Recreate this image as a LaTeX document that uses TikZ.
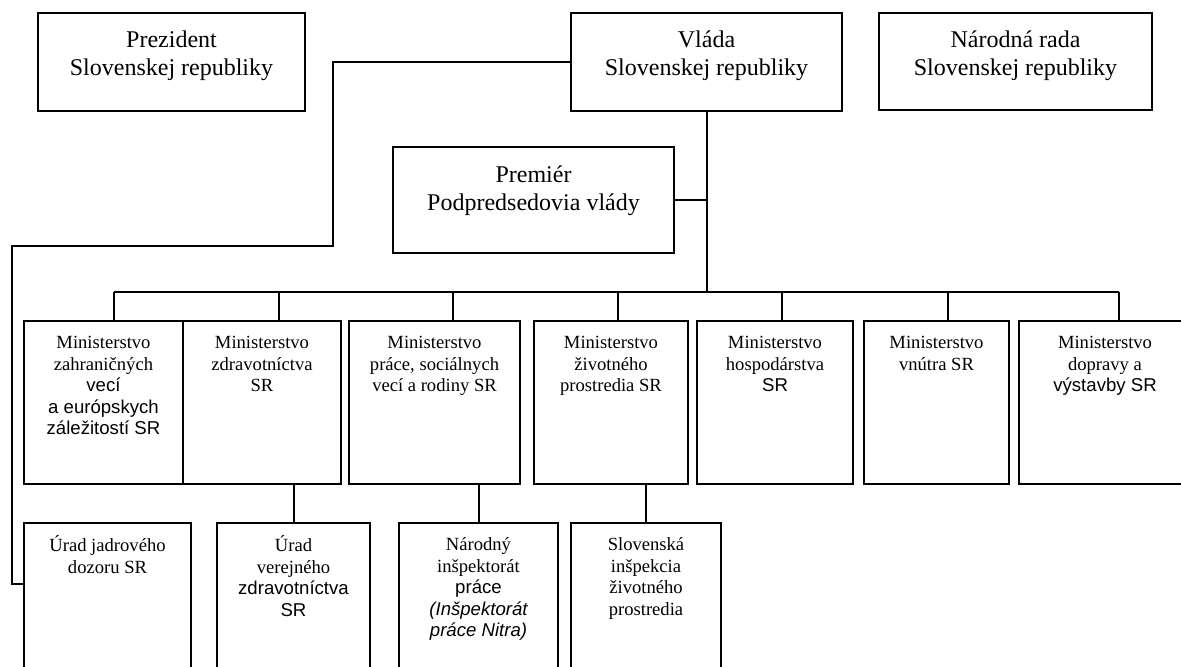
\documentclass[tikz,border=0pt]{standalone}
\usepackage{fontspec}
\setmainfont{Liberation Serif}
\setsansfont{Liberation Sans}
\usetikzlibrary{fit}
\newcommand\sa[1]{{\sffamily #1}}
\newcommand\si[1]{{\sffamily\itshape #1}}
\begin{document}
\begin{tikzpicture}[x=0.5pt,y=-0.5pt,line width=1pt,
  box/.style={draw, inner sep=0pt, line width=1pt},
  big/.style={anchor=north, inner sep=0pt, align=center, font=\fontsize{12}{14}\selectfont, yshift=-7.45pt},
  small/.style={anchor=north, inner sep=0pt, align=center, font=\fontsize{9.3}{10.75}\selectfont, yshift=-6.45pt},
  conn/.style={draw, line width=1pt}]
\useasboundingbox (0,0) rectangle (1181,666);
\clip (0,0) rectangle (1181,666);
% top boxes
\node[box, fit={(38,13) (305,111)}] (prez) {};
\node[box, fit={(571,13) (842,111)}] (vlada) {};
\node[box, fit={(879,13) (1152,110)}] (nrada) {};
\node[box, fit={(393,147) (674,253)}] (prem) {};
\node[big] (prez-t) at (prez.north) {\strut Prezident\\Slovenskej republiky};
\node[big] (vlada-t) at (vlada.north) {\strut Vláda\\Slovenskej republiky};
\node[big] (nrada-t) at (nrada.north) {\strut Národná rada\\Slovenskej republiky};
\node[big, yshift=-0.5pt] (prem-t) at (prem.north) {\strut Premiér\\Podpredsedovia vlády};
% ministries
\node[box, fit={(24,321) (183,484)}] (m1) {};
\node[box, fit={(183,321) (341,484)}] (m2) {};
\node[box, fit={(349,321) (520,484)}] (m3) {};
\node[box, fit={(534,321) (688,484)}] (m4) {};
\node[box, fit={(697,321) (853,484)}] (m5) {};
\node[box, fit={(864,321) (1009,484)}] (m6) {};
\node[box, fit={(1019,321) (1191,484)}] (m7) {};
\node[small] (m1-t) at (m1.north) {\strut Ministerstvo\\zahraničných\\\sa{vecí}\\\sa{a európskych}\\\sa{záležitostí SR}};
\node[small] (m2-t) at (m2.north) {\strut Ministerstvo\\zdravotníctva\\SR};
\node[small] (m3-t) at (m3.north) {\strut Ministerstvo\\práce, sociálnych\\vecí a rodiny SR};
\node[small] (m4-t) at (m4.north) {\strut Ministerstvo\\životného\\prostredia SR};
\node[small] (m5-t) at (m5.north) {\strut Ministerstvo\\hospodárstva\\\sa{SR}};
\node[small] (m6-t) at (m6.north) {\strut Ministerstvo\\vnútra SR};
\node[small] (m7-t) at (m7.north) {\strut Ministerstvo\\dopravy a\\\sa{výstavby SR}};
% bottom boxes
\node[box, fit={(24,523) (191,690)}] (jadr) {};
\node[box, fit={(217,523) (370,690)}] (ub) {};
\node[box, fit={(399,523) (558,690)}] (nip) {};
\node[box, fit={(571,523) (721,690)}] (sizp) {};
\node[small] (jadr-t) at (jadr.north) {\strut Úrad jadrového\\dozoru SR};
\node[small] (ub-t) at (ub.north) {\strut Úrad\\verejného\\\sa{zdravotníctva}\\\sa{SR}};
\node[small] (nip-t) at (nip.north) {\strut Národný\\inšpektorát\\\sa{práce}\\\si{(Inšpektorát}\\\si{práce Nitra)}};
\node[small] (sizp-t) at (sizp.north) {\strut Slovenská\\inšpekcia\\životného\\prostredia};
% bus coordinates
\coordinate (b1) at (114,292);
\coordinate (b2) at (279,292);
\coordinate (b3) at (453,292);
\coordinate (b4) at (618,292);
\coordinate (b5) at (782,292);
\coordinate (b6) at (948,292);
\coordinate (b7) at (1119,292);
% connectors
\draw[conn] (vlada.south) -- (vlada.south |- b1);
\draw[conn] (prem.east) -- (prem.east -| vlada.south);
\draw[conn] (b1) -- (b7);
\draw[conn] (b1) -- (b1 |- m1.north);
\draw[conn] (b2) -- (b2 |- m2.north);
\draw[conn] (b3) -- (b3 |- m3.north);
\draw[conn] (b4) -- (b4 |- m4.north);
\draw[conn] (b5) -- (b5 |- m5.north);
\draw[conn] (b6) -- (b6 |- m6.north);
\draw[conn] (b7) -- (b7 |- m7.north);
\draw[conn] (vlada.west) -- (333,62) -- (333,246) -- (12,246) |- ([yshift=-31pt]jadr.north west);
\draw[conn] (ub.north) -- (ub.north |- m2.south);
\draw[conn] (nip.north) -- (nip.north |- m3.south);
\draw[conn] (sizp.north) -- (sizp.north |- m4.south);
\end{tikzpicture}
\end{document}
